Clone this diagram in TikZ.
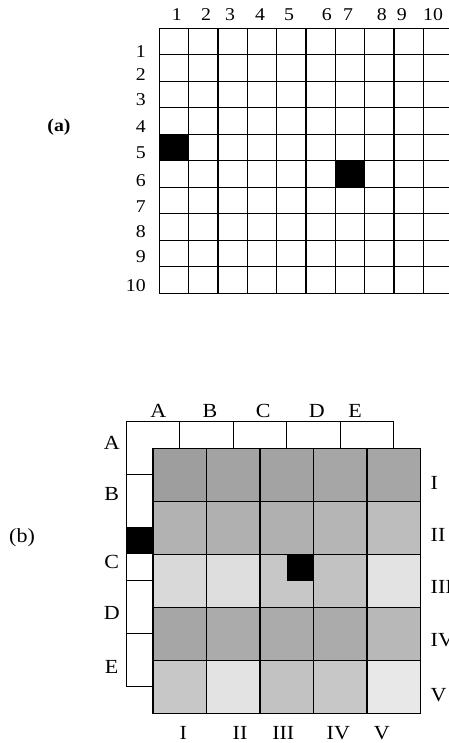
\documentclass[tikz,border=0pt]{standalone}
\usepackage{fontspec}
\setmainfont{Liberation Serif}
\begin{document}
\begin{tikzpicture}[x=1pt,y=-1pt,
  gridline/.style={line width=1.3pt, line cap=rect},
  lblA/.style={font=\fontsize{18}{20}\selectfont, inner sep=0pt, xscale=1.1},
  lblB/.style={font=\fontsize{20}{22}\selectfont, inner sep=0pt, xscale=1.1},
  blackcell/.style={fill=black, draw=none}]
\useasboundingbox (0,0) rectangle (449,743);
\clip (0,0) rectangle (449,743);
% ---------------- (a) ----------------
\node[lblA, font=\fontsize{18}{20}\selectfont\bfseries] (labA) at (59,127) {(a)};
\fill[blackcell] (159.5,134.3) rectangle (188.8,160.8);
\fill[blackcell] (335.3,160.8) rectangle (364.6,187.3);
\foreach \k in {0,...,10} {
  \draw[gridline] (159.5+29.3*\k,28.3) -- (159.5+29.3*\k,293.3);
  \draw[gridline] (159.5,28.3+26.5*\k) -- (452.5,28.3+26.5*\k);
}
\foreach \t/\x in {1/176.7,2/206,3/230,4/260,5/289,6/326.7,7/348,8/381.7,9/401.7,10/433}
  \node[lblA] (col\t) at (\x,15) {\t};
\foreach \t/\y in {1/51.7,2/75,3/100,4/126.7,5/153,6/181,7/206.7,8/231.7,9/256.7,10/286}
  \node[lblA, anchor=east] (row\t) at (146,\y) {\t};
% ---------------- (b) ----------------
\node[lblB] (labB) at (22,538) {(b)};
% shaded cells
\foreach \r/\c/\g in {
  0/0/38,0/1/36,0/2/36,0/3/35,0/4/35,
  1/0/30,1/1/31,1/2/31,1/3/29,1/4/26,
  2/0/15,2/1/13,2/2/22,2/3/24,2/4/11,
  3/0/35,3/1/33,3/2/33,3/3/33,3/4/28,
  4/0/22,4/1/11,4/2/24,4/3/22,4/4/9}
  \fill[black!\g] (153+53.5*\c,448.3+53*\r) rectangle (206.5+53.5*\c,501.3+53*\r);
\fill[blackcell] (286.75,554.3) rectangle (313.5,581);
\fill[blackcell] (126.25,527.8) rectangle (153,554.3);
\foreach \k in {0,...,5} {
  \draw[gridline] (153+53.5*\k,448.3) -- (153+53.5*\k,713.3);
  \draw[gridline] (153,448.3+53*\k) -- (420.5,448.3+53*\k);
}
% offset A-E frame
\draw[gridline] (153,686.8) -- (126.25,686.8) -- (126.25,421.8) -- (393.75,421.8) -- (393.75,448.3);
\foreach \k in {1,...,4} {
  \draw[gridline] (126.25+53.5*\k,421.8) -- (126.25+53.5*\k,448.3);
  \draw[gridline] (126.25,421.8+53*\k) -- (153,421.8+53*\k);
}
\foreach \t/\x in {A/158.3,B/210,C/263.3,D/316.7,E/355}
  \node[lblB] (top\t) at (\x,410.7) {\t};
\foreach \t/\y in {A/443.3,B/494,C/561.7,D/612.7,E/666.7}
  \node[lblB] (left\t) at (111.7,\y) {\t};
\foreach \t/\y in {I/483.3,II/535,III/586.7,IV/640,V/695}
  \node[lblB, anchor=west] (right\t) at (430.5,\y) {\t};
\foreach \t/\x in {I/183.3,II/240,III/283.3,IV/338.3,V/381.7}
  \node[lblB] (bot\t) at (\x,733.3) {\t};
\end{tikzpicture}
\end{document}
